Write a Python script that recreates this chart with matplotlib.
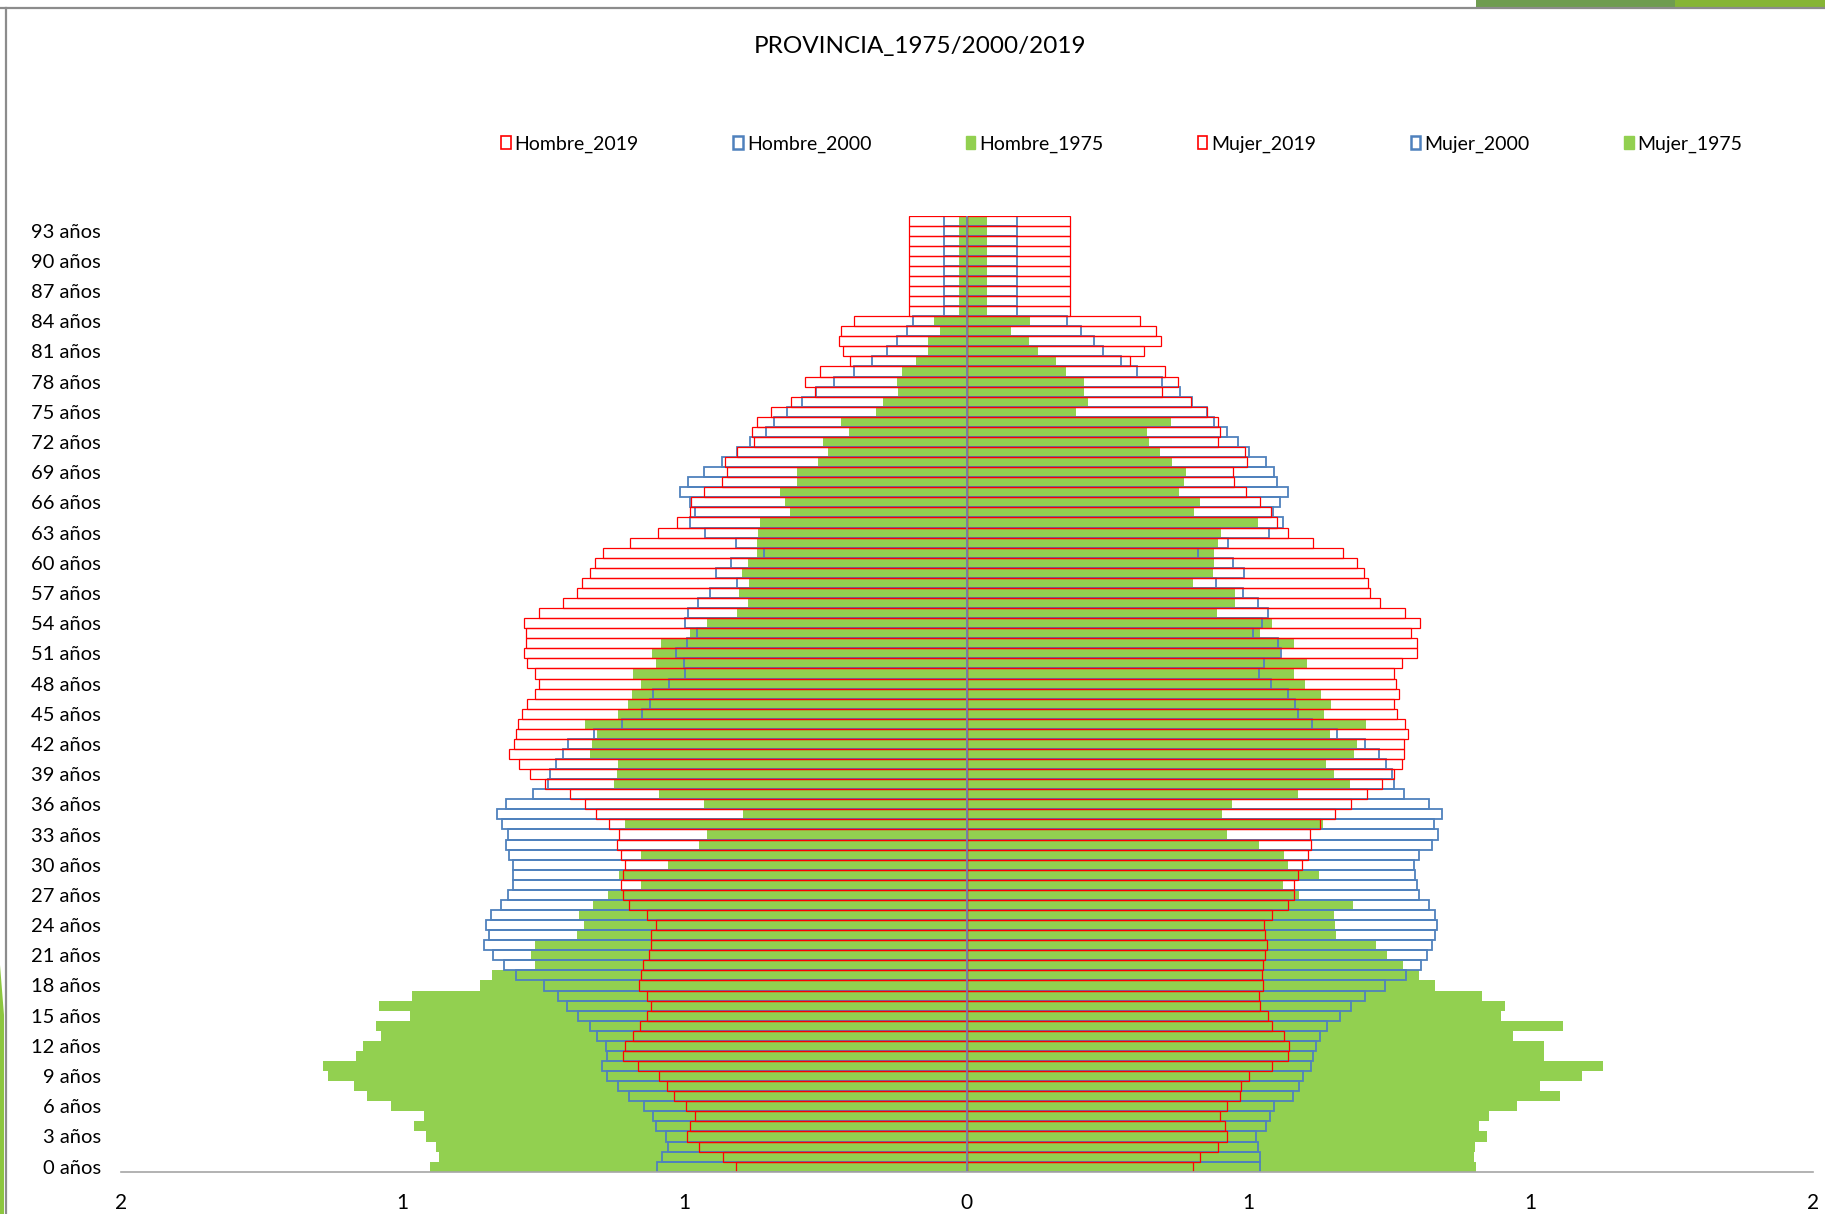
import numpy as np
import matplotlib
matplotlib.use("Agg")
import matplotlib.pyplot as plt
from matplotlib.patches import Patch, Rectangle, Polygon

plt.rcParams['font.family'] = ['Lato', 'DejaVu Sans']

# ── data: share of population (%) by single year of age, 0..94 ──────────────
ages = np.arange(95)

hombre_2019 = [0.408, 0.432, 0.474, 0.496, 0.490, 0.481, 0.498, 0.519, 0.531, 0.545,
               0.583, 0.609, 0.605, 0.592, 0.579, 0.567, 0.559, 0.567, 0.581, 0.577,
               0.573, 0.563, 0.559, 0.559, 0.550, 0.567, 0.598, 0.610, 0.612, 0.610,
               0.606, 0.612, 0.620, 0.616, 0.634, 0.657, 0.676, 0.704, 0.748, 0.774,
               0.793, 0.811, 0.802, 0.799, 0.795, 0.789, 0.779, 0.765, 0.758, 0.765,
               0.779, 0.785, 0.781, 0.781, 0.784, 0.758, 0.715, 0.690, 0.682, 0.668,
               0.658, 0.645, 0.597, 0.548, 0.513, 0.491, 0.489, 0.466, 0.434, 0.425,
               0.429, 0.407, 0.377, 0.381, 0.371, 0.346, 0.311, 0.268, 0.287, 0.260,
               0.206, 0.219, 0.227, 0.223, 0.200, 0.102, 0.102, 0.102, 0.102, 0.102,
               0.102, 0.102, 0.102, 0.102, 0.102]

hombre_2000 = [0.549, 0.540, 0.530, 0.533, 0.550, 0.556, 0.572, 0.599, 0.618, 0.638,
               0.647, 0.638, 0.640, 0.656, 0.668, 0.689, 0.708, 0.725, 0.749, 0.799,
               0.821, 0.839, 0.855, 0.846, 0.852, 0.844, 0.825, 0.814, 0.804, 0.804,
               0.804, 0.812, 0.816, 0.814, 0.824, 0.833, 0.816, 0.769, 0.742, 0.738,
               0.728, 0.716, 0.706, 0.660, 0.611, 0.575, 0.561, 0.556, 0.527, 0.499,
               0.501, 0.516, 0.496, 0.478, 0.500, 0.494, 0.476, 0.455, 0.407, 0.445,
               0.418, 0.360, 0.409, 0.463, 0.490, 0.481, 0.491, 0.508, 0.494, 0.466,
               0.433, 0.407, 0.384, 0.356, 0.341, 0.319, 0.291, 0.267, 0.235, 0.200,
               0.167, 0.141, 0.124, 0.106, 0.095, 0.040, 0.040, 0.040, 0.040, 0.040,
               0.040, 0.040, 0.040, 0.040, 0.040]

hombre_1975 = [0.952, 0.935, 0.941, 0.958, 0.980, 0.962, 1.021, 1.064, 1.086, 1.133,
               1.141, 1.082, 1.070, 1.038, 1.047, 0.986, 1.042, 0.984, 0.862, 0.842,
               0.765, 0.772, 0.765, 0.691, 0.679, 0.687, 0.663, 0.636, 0.577, 0.617,
               0.529, 0.577, 0.475, 0.461, 0.605, 0.397, 0.465, 0.546, 0.625, 0.620,
               0.618, 0.667, 0.665, 0.655, 0.677, 0.618, 0.601, 0.593, 0.578, 0.591,
               0.550, 0.558, 0.541, 0.490, 0.461, 0.407, 0.388, 0.403, 0.385, 0.398,
               0.388, 0.371, 0.371, 0.369, 0.367, 0.314, 0.322, 0.330, 0.300, 0.301,
               0.264, 0.246, 0.254, 0.209, 0.223, 0.161, 0.148, 0.121, 0.123, 0.114,
               0.090, 0.069, 0.069, 0.047, 0.057, 0.014, 0.014, 0.014, 0.014, 0.014,
               0.014, 0.014, 0.014, 0.014, 0.014]

mujer_2019 = [0.402, 0.414, 0.445, 0.461, 0.459, 0.449, 0.461, 0.484, 0.486, 0.501,
              0.542, 0.570, 0.572, 0.563, 0.542, 0.534, 0.521, 0.518, 0.525, 0.523,
              0.526, 0.529, 0.532, 0.529, 0.527, 0.541, 0.570, 0.581, 0.581, 0.588,
              0.595, 0.606, 0.610, 0.609, 0.626, 0.653, 0.681, 0.710, 0.736, 0.757,
              0.772, 0.776, 0.776, 0.782, 0.778, 0.764, 0.757, 0.766, 0.762, 0.757,
              0.772, 0.798, 0.799, 0.788, 0.804, 0.778, 0.733, 0.716, 0.711, 0.704,
              0.692, 0.667, 0.614, 0.569, 0.551, 0.540, 0.521, 0.496, 0.474, 0.472,
              0.498, 0.494, 0.446, 0.449, 0.445, 0.426, 0.397, 0.347, 0.375, 0.351,
              0.289, 0.315, 0.345, 0.335, 0.308, 0.183, 0.183, 0.183, 0.183, 0.183,
              0.183, 0.183, 0.183, 0.183, 0.183]

mujer_2000 = [0.520, 0.520, 0.517, 0.514, 0.530, 0.538, 0.545, 0.578, 0.590, 0.597,
              0.611, 0.614, 0.620, 0.626, 0.639, 0.662, 0.681, 0.706, 0.741, 0.779,
              0.806, 0.817, 0.825, 0.830, 0.834, 0.830, 0.820, 0.802, 0.798, 0.795,
              0.793, 0.802, 0.825, 0.835, 0.829, 0.843, 0.820, 0.775, 0.757, 0.754,
              0.743, 0.732, 0.707, 0.657, 0.612, 0.588, 0.583, 0.569, 0.539, 0.518,
              0.527, 0.557, 0.553, 0.507, 0.524, 0.535, 0.517, 0.490, 0.442, 0.492,
              0.472, 0.411, 0.463, 0.537, 0.561, 0.543, 0.556, 0.569, 0.551, 0.545,
              0.531, 0.501, 0.481, 0.461, 0.439, 0.426, 0.400, 0.379, 0.346, 0.303,
              0.273, 0.241, 0.225, 0.202, 0.178, 0.089, 0.089, 0.089, 0.089, 0.089,
              0.089, 0.089, 0.089, 0.089, 0.089]

mujer_1975 = [0.904, 0.899, 0.902, 0.922, 0.908, 0.927, 0.976, 1.052, 1.016, 1.092,
              1.129, 1.023, 1.023, 0.968, 1.058, 0.948, 0.955, 0.914, 0.830, 0.803,
              0.774, 0.746, 0.725, 0.655, 0.654, 0.652, 0.685, 0.589, 0.561, 0.625,
              0.569, 0.563, 0.519, 0.461, 0.632, 0.452, 0.471, 0.588, 0.679, 0.651,
              0.638, 0.686, 0.692, 0.645, 0.709, 0.634, 0.646, 0.629, 0.600, 0.581,
              0.604, 0.556, 0.581, 0.520, 0.541, 0.444, 0.475, 0.475, 0.401, 0.436,
              0.438, 0.438, 0.446, 0.451, 0.516, 0.404, 0.413, 0.376, 0.385, 0.389,
              0.364, 0.343, 0.323, 0.319, 0.362, 0.194, 0.215, 0.208, 0.208, 0.176,
              0.159, 0.126, 0.111, 0.079, 0.112, 0.036, 0.036, 0.036, 0.036, 0.036,
              0.036, 0.036, 0.036, 0.036, 0.036]

series_names = ['Hombre_2019', 'Hombre_2000', 'Hombre_1975',
                'Mujer_2019', 'Mujer_2000', 'Mujer_1975']

ytick_ages = list(range(0, 94, 3))
ytick_labels = [f'{a} años' for a in ytick_ages]
xtick_pos = [-1.5, -1.0, -0.5, 0, 0.5, 1.0, 1.5]
xtick_labels = ['2', '1', '1', '0', '1', '1', '2']

RED = '#FF0000'
BLUE = '#4F81BD'
GREEN = '#92D050'

W, H = 1825, 1214
fig = plt.figure(figsize=(W / 100, H / 100), dpi=100)

# slide decorations (frame lines, theme accents)
bg = fig.add_axes([0, 0, 1, 1], zorder=-1)
bg.set_xlim(0, W)
bg.set_ylim(H, 0)
bg.axis('off')
bg.add_patch(Rectangle((1476, 0), 199, 7, color='#6F9C50', lw=0))
bg.add_patch(Rectangle((1675, 0), 150, 7, color='#86B535', lw=0))
bg.add_patch(Polygon([[0, 965], [4, 1015], [4, H], [0, H]], closed=True, color='#8DC63F', lw=0))
bg.plot([0, W], [8, 8], color='#8C8C8C', lw=1.6)
bg.plot([6, 6], [8, H], color='#8C8C8C', lw=1.6)

# ── pyramid ──────────────────────────────────────────────────────────────────
left, right = 120.6, 1812.6
top, bottom = 215.5, 1171.7
ax = fig.add_axes([left / W, 1 - bottom / H, (right - left) / W, (bottom - top) / H])

h75 = -np.array(hombre_1975)
h00 = -np.array(hombre_2000)
h19 = -np.array(hombre_2019)

ax.barh(ages, h75, height=1.0, color=GREEN, lw=0, zorder=1)
ax.barh(ages, mujer_1975, height=1.0, color=GREEN, lw=0, zorder=1)
ax.barh(ages, h00, height=1.0, fill=False, edgecolor=BLUE, lw=1.3, zorder=2)
ax.barh(ages, mujer_2000, height=1.0, fill=False, edgecolor=BLUE, lw=1.3, zorder=2)
ax.barh(ages, h19, height=1.0, fill=False, edgecolor=RED, lw=0.9, zorder=3)
ax.barh(ages, mujer_2019, height=1.0, fill=False, edgecolor=RED, lw=0.9, zorder=3)
ax.axvline(0, color='#6F86B0', lw=1.3, zorder=4)

ax.set_xlim(-1.5, 1.5)
ax.set_ylim(-0.5, 94.5)
ax.set_xticks(xtick_pos)
ax.set_xticklabels(xtick_labels, fontsize=15)
ax.set_yticks(ytick_ages)
ax.set_yticklabels(ytick_labels, fontsize=14.5)
ax.tick_params(axis='x', length=0, pad=15)
ax.tick_params(axis='y', length=0, pad=14)
for s in ['top', 'right', 'left']:
    ax.spines[s].set_visible(False)
ax.spines['bottom'].set_color('#A6A6A6')
ax.spines['bottom'].set_linewidth(1.2)
ax.spines['bottom'].set_zorder(5)

fig.text(919.5 / W, 1 - 46.5 / H, 'PROVINCIA_1975/2000/2019',
         ha='center', va='center', fontsize=17.5)

handles = [Patch(facecolor='white', edgecolor=RED, lw=1.2),
           Patch(facecolor='white', edgecolor=BLUE, lw=1.8),
           Patch(facecolor=GREEN, edgecolor=GREEN, lw=1.0),
           Patch(facecolor='white', edgecolor=RED, lw=1.2),
           Patch(facecolor='white', edgecolor=BLUE, lw=1.8),
           Patch(facecolor=GREEN, edgecolor=GREEN, lw=1.0)]
fig.legend(handles, series_names, ncol=6, loc='center left',
           bbox_to_anchor=(501 / W, 1 - 144 / H), frameon=False,
           fontsize=14, handlelength=0.5, handleheight=0.7,
           handletextpad=0.2, columnspacing=4.85, borderaxespad=0, borderpad=0)

fig.savefig('out.png', dpi=100, facecolor='white')
